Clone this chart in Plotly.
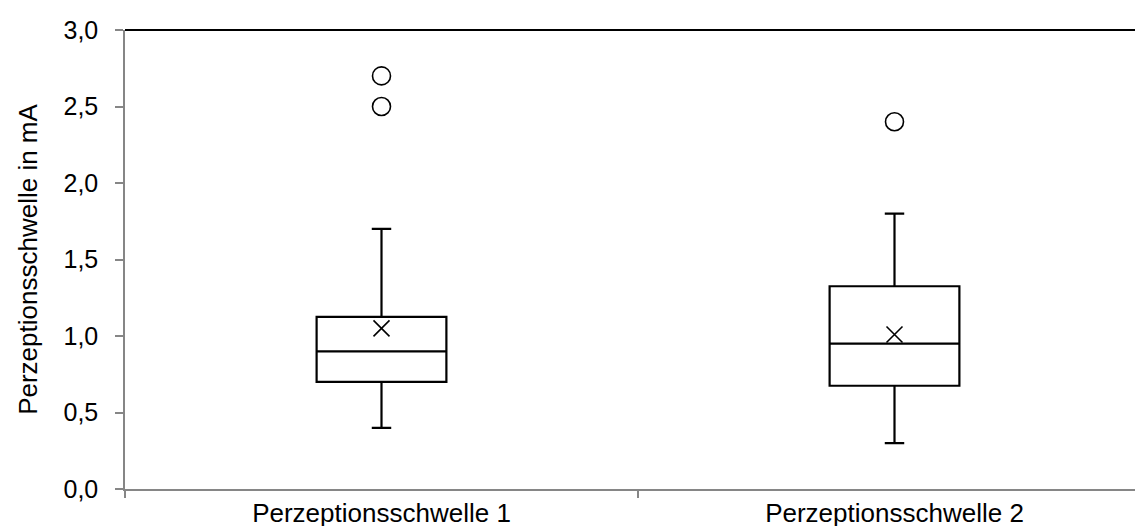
import plotly.graph_objects as go

categories = ["Perzeptionsschwelle 1", "Perzeptionsschwelle 2"]
q1_vals = [0.70, 0.675]
median_vals = [0.90, 0.95]
q3_vals = [1.125, 1.325]
lower_whisker = [0.40, 0.30]
upper_whisker = [1.70, 1.80]
mean_vals = [1.05, 1.01]
outlier_cats = ["Perzeptionsschwelle 1", "Perzeptionsschwelle 1", "Perzeptionsschwelle 2"]
outlier_vals = [2.70, 2.50, 2.40]
y_ticks = [0.0, 0.5, 1.0, 1.5, 2.0, 2.5, 3.0]

FONT = "Liberation Sans, Arial, sans-serif"
AXIS_GRAY = "#868686"

fig = go.Figure()
fig.add_trace(go.Box(
    x=categories, q1=q1_vals, median=median_vals, q3=q3_vals,
    lowerfence=lower_whisker, upperfence=upper_whisker,
    boxpoints=False, fillcolor="white",
    line=dict(color="black", width=2.2),
    whiskerwidth=0.15, width=0.253, showlegend=False, hoverinfo="skip",
))
fig.add_trace(go.Scatter(
    x=categories, y=mean_vals, mode="markers",
    marker=dict(symbol="x-thin", size=16, line=dict(color="black", width=1.6)),
    showlegend=False, hoverinfo="skip",
))
fig.add_trace(go.Scatter(
    x=outlier_cats, y=outlier_vals, mode="markers",
    marker=dict(symbol="circle-open", size=18, color="black", line=dict(color="black", width=1.6)),
    showlegend=False, hoverinfo="skip",
))

fig.update_layout(
    width=1143, height=526,
    margin=dict(l=117, r=0, t=22, b=45),
    paper_bgcolor="white", plot_bgcolor="white",
    separators=",.",
    font=dict(family=FONT, size=25, color="black"),
    shapes=[dict(type="line", xref="paper", yref="paper", x0=0, x1=1, y0=1, y1=1,
                 line=dict(color="black", width=2))],
)
fig.update_xaxes(
    type="category", range=[-0.5, 1.5], tickson="boundaries",
    ticks="outside", ticklen=7, tickcolor=AXIS_GRAY, tickwidth=1.5,
    showline=True, linecolor=AXIS_GRAY, linewidth=1.5, showgrid=False,
    tickfont=dict(family=FONT, size=26, color="black"),
)
fig.update_yaxes(
    range=[0, 3], tickvals=y_ticks, tickformat=".1f",
    ticks="outside", ticklen=8, tickcolor=AXIS_GRAY, tickwidth=1.5,
    ticklabelstandoff=12,
    showline=True, linecolor=AXIS_GRAY, linewidth=1.5, showgrid=False, zeroline=False,
    tickfont=dict(family=FONT, size=25, color="black"),
    title=dict(text="Perzeptionsschwelle in mA", font=dict(family=FONT, size=26, color="black"), standoff=18),
)

fig.write_html("out.html")
